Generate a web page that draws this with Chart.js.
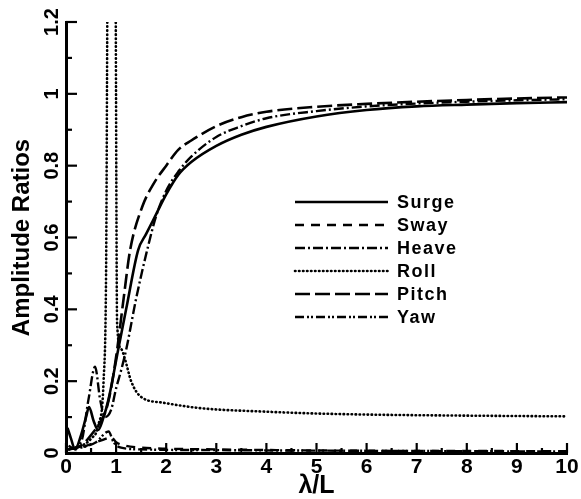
<!DOCTYPE html>
<html><head><meta charset="utf-8">
<script src="https://cdn.jsdelivr.net/npm/chart.js@4/dist/chart.umd.min.js"></script>
<style>html,body{margin:0;padding:0;background:#fff}#wrap{width:581px;height:499px}</style>
</head><body><div id="wrap"><canvas id="c" width="581" height="499"></canvas></div>
<script>
const seriesNames = ["Surge","Sway","Heave","Roll","Pitch","Yaw"];
const xTicks = [0,1,2,3,4,5,6,7,8,9,10];
const yTicks = [0,0.2,0.4,0.6,0.8,1,1.2];
const yTickLabels = ["0","0.2","0.4","0.6","0.8","1","1.2"];

const surgeX = [0.03,0.1,0.18,0.3,0.4,0.46,0.55,0.64,0.75,0.85,1.04,1.2,1.44,1.6,1.8,2.0,2.24,2.5,3,3.5,4,5,6,7,8,9,10];
const surgeY = [0.07,0.04,0.01,0.05,0.1,0.128,0.09,0.064,0.1,0.15,0.287,0.4,0.565,0.61,0.665,0.72,0.774,0.81,0.855,0.886,0.908,0.937,0.955,0.965,0.97,0.974,0.977];

const swayX = [0.05,0.2,0.4,0.6,0.8,0.9,1.0,1.2,1.5,2,3,5,10];
const swayY = [0.02,0.01,0.02,0.03,0.04,0.045,0.03,0.02,0.015,0.012,0.01,0.007,0.005];

const heaveX = [0.05,0.3,0.45,0.58,0.68,0.78,0.9,1.0,1.1,1.2,1.4,1.62,1.8,2.0,2.25,2.5,3,3.5,4,5,6,7,8,9,10];
const heaveY = [0.01,0.03,0.15,0.24,0.15,0.1,0.12,0.18,0.23,0.287,0.43,0.565,0.66,0.73,0.785,0.825,0.88,0.91,0.932,0.952,0.965,0.973,0.978,0.982,0.985];

const rollX = [0.05,0.3,0.5,0.65,0.75,0.8,0.84,0.98,1.02,1.1,1.18,1.3,1.5,1.94,2.67,4,5,6,8,10];
const rollY = [0.01,0.02,0.04,0.08,0.2,0.5,1.5,1.5,0.36,0.29,0.26,0.2,0.156,0.14,0.125,0.115,0.11,0.107,0.104,0.102];

const pitchX = [0.05,0.3,0.5,0.7,0.8,0.9,1.02,1.15,1.28,1.52,1.75,2.0,2.24,2.5,3,3.5,4,5,6,7,8,9,10];
const pitchY = [0.01,0.02,0.05,0.09,0.12,0.18,0.287,0.43,0.565,0.685,0.75,0.8,0.844,0.87,0.91,0.935,0.95,0.964,0.972,0.978,0.983,0.987,0.99];

const yawX = [0.05,0.3,0.6,0.85,0.95,1.1,1.5,3,10];
const yawY = [0.01,0.015,0.03,0.06,0.03,0.015,0.01,0.008,0.004];

const seriesX = [surgeX,swayX,heaveX,rollX,pitchX,yawX];
const seriesY = [surgeY,swayY,heaveY,rollY,pitchY,yawY];
const dashes = [[],[9,7],[10,3,2,3],[0.5,3.5],[15,5],[9,3,2,2,2,3]];
const caps = ['butt','butt','butt','round','butt','butt'];
const widths = [2.6,2.4,2.4,2.6,2.6,2.4];

const datasets = seriesNames.map((n,i)=>({
  label:n,
  data: seriesX[i].map((x,j)=>({x:x,y:seriesY[i][j]})),
  borderColor:'#000', backgroundColor:'#000',
  borderWidth:widths[i], borderDash:dashes[i], borderCapStyle:caps[i],
  pointRadius:0, fill:false, cubicInterpolationMode:'monotone'
}));

const FONT = "'Liberation Sans', Arial, sans-serif";

const axisDecor = {
  id:'axisDecor',
  afterDatasetsDraw(chart){
    const ctx = chart.ctx, x = chart.scales.x, y = chart.scales.y, a = chart.chartArea;
    ctx.save(); ctx.strokeStyle='#000'; ctx.lineWidth=2.2; ctx.setLineDash([]);
    for(let v=0; v<=10.001; v+=0.5){
      const px = x.getPixelForValue(v), L = (Math.abs(v-Math.round(v))<1e-6)?10:5;
      ctx.beginPath(); ctx.moveTo(px,a.bottom); ctx.lineTo(px,a.bottom-L); ctx.stroke();
    }
    for(let k=0; k<=12; k++){
      const v=k/10, py=y.getPixelForValue(v), L=(k%2===0)?11:6;
      ctx.beginPath(); ctx.moveTo(a.left,py); ctx.lineTo(a.left+L,py); ctx.stroke();
    }
    ctx.fillStyle='#000'; ctx.font="bold 20px "+FONT;
    yTicks.forEach((v,i)=>{
      const py=y.getPixelForValue(v);
      ctx.save(); ctx.translate(a.left-8,py); ctx.rotate(-Math.PI/2);
      ctx.textAlign='center'; ctx.textBaseline='alphabetic';
      ctx.fillText(yTickLabels[i],0,0); ctx.restore();
    });
    ctx.restore();
  }
};

const legendBox = {
  id:'legendBox',
  afterDatasetsDraw(chart){
    const ctx = chart.ctx;
    ctx.save();
    chart.data.datasets.forEach((ds,i)=>{
      const yy = 202 + i*23;
      ctx.strokeStyle='#000'; ctx.lineWidth=ds.borderWidth; ctx.setLineDash(ds.borderDash||[]);
      ctx.lineCap = ds.borderCapStyle||'butt';
      ctx.beginPath(); ctx.moveTo(295,yy); ctx.lineTo(388,yy); ctx.stroke();
      ctx.setLineDash([]); ctx.lineCap='butt';
      ctx.fillStyle='#000'; ctx.font="bold 18px "+FONT; ctx.textBaseline='middle'; ctx.textAlign='left';
      try{ctx.letterSpacing='1.5px';}catch(e){}
      ctx.fillText(ds.label, 397, yy+1);
    });
    ctx.restore();
  }
};

new Chart(document.getElementById('c'),{
  type:'line',
  data:{datasets:datasets},
  options:{
    responsive:false, animation:false,
    layout:{padding:{left:0,right:14,top:22,bottom:0}},
    plugins:{legend:{display:false},tooltip:{enabled:false}},
    scales:{
      x:{type:'linear',min:0,max:10,
        afterBuildTicks(s){s.ticks=xTicks.map(v=>({value:v}));},
        afterFit(s){s.height=46;},
        grid:{drawOnChartArea:false,drawTicks:false},
        border:{display:true,color:'#000',width:3},
        ticks:{color:'#000',padding:2,font:{family:FONT,size:21,weight:'bold'},callback:v=>String(v),maxRotation:0},
        title:{display:true,text:'λ/L',color:'#000',font:{family:FONT,size:25,weight:'bold',lineHeight:1.0},padding:{top:0,bottom:0}}
      },
      y:{type:'linear',min:0,max:1.2,
        afterBuildTicks(s){s.ticks=yTicks.map(v=>({value:v}));},
        afterFit(s){s.width=66;},
        grid:{drawOnChartArea:false,drawTicks:false},
        border:{display:true,color:'#000',width:3},
        ticks:{display:false},
        title:{display:true,text:'Amplitude Ratios',color:'#000',font:{family:FONT,size:24,weight:'bold'},padding:{top:8,bottom:0}}
      }
    }
  },
  plugins:[axisDecor,legendBox]
});
</script></body></html>
